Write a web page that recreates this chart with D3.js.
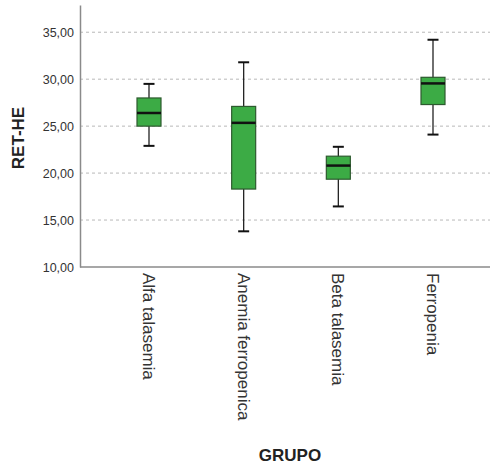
<!DOCTYPE html>
<html>
<head>
<meta charset="utf-8">
<script src="https://cdn.jsdelivr.net/npm/d3@7"></script>
<style>
  body { margin: 0; background: #fff; }
  svg { display: block; font-family: "Liberation Sans", Arial, sans-serif; }
</style>
</head>
<body>
<div id="container"></div>
<script>
// boxplot RET-HE por grupo

const groups = ["Alfa talasemia", "Anemia ferropenica", "Beta talasemia", "Ferropenia"];
const whiskerLow = [22.9, 13.8, 16.45, 24.1];
const q1 = [25.0, 18.3, 19.35, 27.3];
const median = [26.4, 25.35, 20.8, 29.55];
const q3 = [28.0, 27.1, 21.8, 30.2];
const whiskerHigh = [29.5, 31.8, 22.8, 34.2];
const yTicks = [10, 15, 20, 25, 30, 35];

const W = 490, H = 464;
const plot = {left: 80, right: 490, top: 5, bottom: 267};

const svg = d3.select("#container")
  .append("svg")
    .attr("width", W)
    .attr("height", H);

const data = groups.map((g, i) => ({
  g: g, lo: whiskerLow[i], q1: q1[i], med: median[i], q3: q3[i], hi: whiskerHigh[i]
}));

const x = d3.scalePoint()
  .domain(groups)
  .range([149, 433]);

const y = d3.scaleLinear()
  .domain([10, 37.9])
  .range([plot.bottom, plot.top]);

// grid lines
svg.append("g")
  .selectAll("line")
  .data(yTicks.filter(d => d > 10))
  .join("line")
    .attr("x1", plot.left)
    .attr("x2", plot.right)
    .attr("y1", d => y(d))
    .attr("y2", d => y(d))
    .attr("stroke", "#b8b8b8")
    .attr("stroke-width", 1)
    .attr("stroke-dasharray", "3,3");

// y axis
const yAxis = svg.append("g")
  .attr("transform", `translate(${plot.left},0)`)
  .call(d3.axisLeft(y).tickValues(yTicks).tickSize(0).tickPadding(6)
    .tickFormat(d => d3.format(".2f")(d).replace(".", ",")));
yAxis.select(".domain").attr("stroke", "#8a8a8a").attr("stroke-width", 1.5);
yAxis.selectAll("text")
  .style("font-size", "12.5px")
  .attr("fill", "#333");

// x axis line
svg.append("line")
  .attr("x1", plot.left)
  .attr("x2", plot.right)
  .attr("y1", plot.bottom)
  .attr("y2", plot.bottom)
  .attr("stroke", "#8a8a8a")
  .attr("stroke-width", 1.5);

// x labels, vertical
svg.append("g")
  .selectAll("text")
  .data(groups)
  .join("text")
    .attr("transform", d => `translate(${x(d)},${plot.bottom + 6}) rotate(90)`)
    .attr("dy", "0.35em")
    .attr("text-anchor", "start")
    .style("font-size", "17px")
    .attr("fill", "#333")
    .text(d => d);

const boxW = 24, capW = 11;

const box = svg.append("g")
  .selectAll("g")
  .data(data)
  .join("g");

// whisker stems
box.append("line")
  .attr("x1", d => x(d.g))
  .attr("x2", d => x(d.g))
  .attr("y1", d => y(d.hi))
  .attr("y2", d => y(d.lo))
  .attr("stroke", "#222")
  .attr("stroke-width", 1.3);

// caps
box.selectAll(".cap")
  .data(d => [{g: d.g, v: d.lo}, {g: d.g, v: d.hi}])
  .join("line")
    .attr("class", "cap")
    .attr("x1", d => x(d.g) - capW / 2)
    .attr("x2", d => x(d.g) + capW / 2)
    .attr("y1", d => y(d.v))
    .attr("y2", d => y(d.v))
    .attr("stroke", "#111")
    .attr("stroke-width", 2);

// boxes
box.append("rect")
  .attr("x", d => x(d.g) - boxW / 2)
  .attr("width", boxW)
  .attr("y", d => y(d.q3))
  .attr("height", d => y(d.q1) - y(d.q3))
  .attr("fill", "#3cab45")
  .attr("stroke", "#2d5a2f")
  .attr("stroke-width", 1.2);

// medians
box.append("line")
  .attr("x1", d => x(d.g) - boxW / 2)
  .attr("x2", d => x(d.g) + boxW / 2)
  .attr("y1", d => y(d.med))
  .attr("y2", d => y(d.med))
  .attr("stroke", "#111")
  .attr("stroke-width", 2.5);

// axis titles
svg.append("text")
  .attr("transform", `translate(24,${(plot.top + plot.bottom) / 2 + 2}) rotate(-90)`)
  .attr("text-anchor", "middle")
  .style("font-size", "17px")
  .style("font-weight", "bold")
  .attr("fill", "#222")
  .text("RET-HE");

svg.append("text")
  .attr("x", 290)
  .attr("y", 461)
  .attr("text-anchor", "middle")
  .style("font-size", "17px")
  .style("font-weight", "bold")
  .attr("fill", "#222")
  .text("GRUPO");
</script>
</body>
</html>
